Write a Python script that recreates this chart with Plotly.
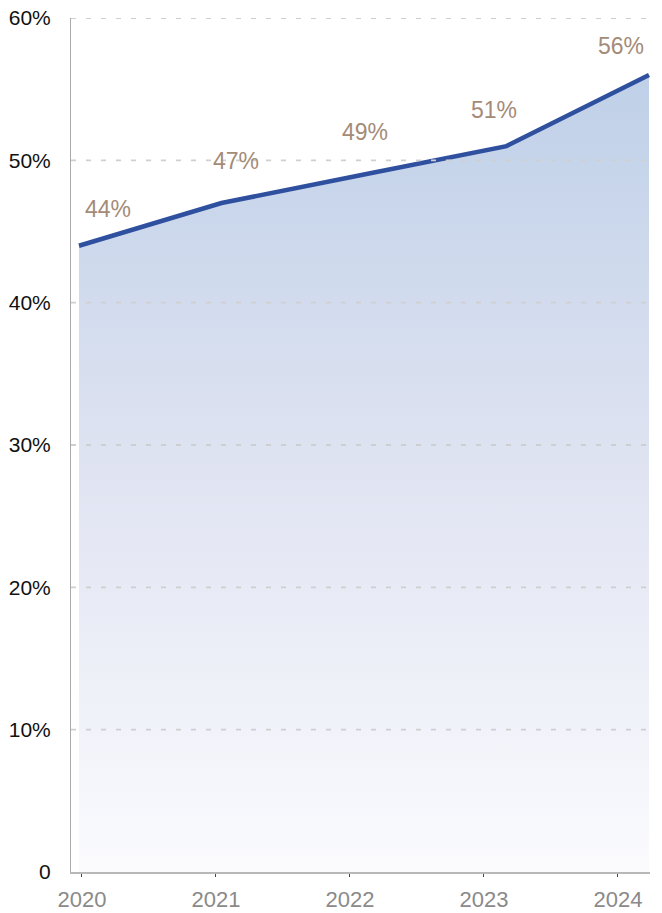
import plotly.graph_objects as go

years = [2020, 2021, 2022, 2023, 2024]
values = [44, 47, 49, 51, 56]
year_labels = ["2020", "2021", "2022", "2023", "2024"]
y_ticks = [0, 10, 20, 30, 40, 50, 60]
y_tick_labels = ["0", "10%", "20%", "30%", "40%", "50%", "60%"]

# label offsets (pixels) relative to each point
label_dx = [29, 15, 1, -13, -28]
label_dy = [37, 42, 43, 36, 29]

FONT = "Liberation Sans, Arial, Helvetica, sans-serif"

fig = go.Figure()
fig.add_trace(go.Scatter(
    x=years, y=values, mode="lines",
    line=dict(color="#2f4f9f", width=4.5),
    fill="tozeroy",
    fillgradient=dict(
        type="vertical",
        colorscale=[[0, "#fbfbfe"], [0.5, "#e0e4f2"], [1, "#bfd0e8"]],
        start=0, stop=max(values),
    ),
    hoverinfo="skip", showlegend=False,
))

# dashed gridlines drawn above the fill
for t in y_ticks[1:]:
    fig.add_shape(type="line", xref="paper", x0=0, x1=1, yref="y", y0=t, y1=t,
                  line=dict(color="#cfcfcf", width=1.8, dash="5px,10px"), layer="above")

for x, v, dx, dy in zip(years, values, label_dx, label_dy):
    fig.add_annotation(
        x=x, y=v, text=f"{v}%", showarrow=False,
        xshift=dx, yshift=dy,
        font=dict(family=FONT, size=23, color="#a48b78"),
    )

# page body has an 8px margin, so the figure is sized to fit the window
fig.update_layout(
    width=654, height=905,
    margin=dict(l=63, r=12, t=10, b=41),
    paper_bgcolor="white", plot_bgcolor="white",
    font=dict(family=FONT),
    xaxis=dict(
        range=[2019.944, 2024.007], showticklabels=False, ticks="",
        showgrid=False, zeroline=False, showline=False, automargin=False,
    ),
    xaxis2=dict(
        overlaying="x", side="bottom", anchor="y",
        range=[-0.082, 4.239],
        tickvals=list(range(len(year_labels))), ticktext=year_labels,
        ticks="outside", ticklen=3, tickcolor="#444", tickwidth=1,
        ticklabelstandoff=4, ticklabeloverflow="allow",
        tickfont=dict(family=FONT, size=22, color="#8a8a8a"),
        showgrid=False, zeroline=False, automargin=False,
        showline=True, linecolor="#b8b8b8", linewidth=2,
    ),
    yaxis=dict(
        range=[0, 60], tickvals=y_ticks, ticktext=y_tick_labels,
        tickfont=dict(family=FONT, size=21, color="#111"),
        ticks="", ticklabelstandoff=15, automargin=False,
        ticklabeloverflow="allow",
        showgrid=False, zeroline=False,
        showline=True, linecolor="#aaaaaa", linewidth=1,
    ),
)
# invisible trace on xaxis2 so the label axis renders
fig.add_trace(go.Scatter(x=[0], y=[0], xaxis="x2", mode="markers",
                         marker=dict(opacity=0), hoverinfo="skip", showlegend=False))

fig.write_html("out.html")
